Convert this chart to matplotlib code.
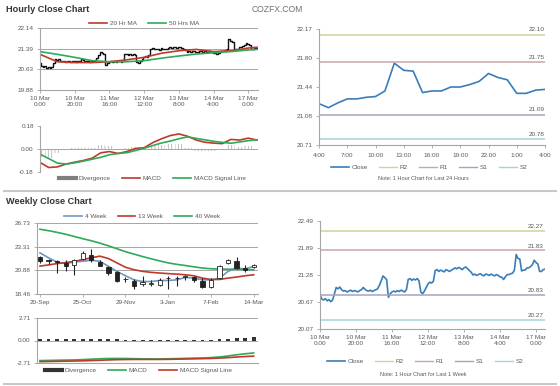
import numpy as np
import matplotlib.pyplot as plt
from matplotlib.lines import Line2D

plt.rcParams['font.family'] = ['Liberation Sans', 'DejaVu Sans']
plt.rcParams['hatch.linewidth'] = 0.6

W, H = 560, 386

# ---- hourly data, 10 Mar 0:00 .. 17 Mar 5:00 (one value per hour) ----
hourly_close = [20.85, 20.74, 20.72, 20.75, 20.70, 20.73, 20.68, 20.72,
                20.86, 21.00, 20.97, 21.01,
                20.95, 20.92, 20.93, 20.90, 20.92, 20.94, 20.91, 20.93, 20.92, 20.90,
                20.93, 20.95, 21.00, 20.96, 20.93, 20.92, 20.94, 20.91, 20.93, 20.95, 20.97,
                21.05, 21.15, 21.26, 21.22, 21.18,
                20.78, 20.86, 20.90,
                20.92, 20.90, 20.93, 20.91, 20.94, 20.92, 20.90, 20.95,
                21.18, 21.20, 21.16, 21.19, 21.17, 21.20, 21.15,
                20.90, 20.86, 20.92,
                21.00, 21.08, 21.12, 21.10, 21.14,
                21.38, 21.40, 21.36, 21.39, 21.37, 21.35, 21.40, 21.38, 21.36, 21.39, 21.41,
                21.44, 21.42, 21.45, 21.43, 21.40, 21.44, 21.46, 21.42, 21.38, 21.34,
                21.28, 21.30, 21.27, 21.29, 21.31, 21.28, 21.26, 21.30, 21.29, 21.27,
                21.30, 21.28, 21.26, 21.29, 21.27, 21.24,
                21.23, 21.18, 21.24, 21.29, 21.29, 21.31, 21.32, 21.39, 21.74, 21.65,
                21.64, 21.37, 21.39, 21.39, 21.44, 21.44, 21.47, 21.51, 21.61, 21.56,
                21.53, 21.36, 21.36, 21.40, 21.41]
hour_ticks = [0, 20, 40, 60, 80, 100, 120]
hour_labels = ['10 Mar\n0:00', '10 Mar\n20:00', '11 Mar\n16:00', '12 Mar\n12:00',
               '13 Mar\n8:00', '14 Mar\n4:00', '17 Mar\n0:00']

ma_hours = [0, 10, 20, 30, 40, 50, 60, 70, 80, 90, 100, 110, 120, 125]
ma20 = [21.18, 20.91, 20.88, 20.88, 20.91, 20.98, 21.07, 21.22, 21.31, 21.36, 21.28, 21.31, 21.41, 21.44]
ma50 = [21.28, 21.18, 21.07, 20.95, 20.91, 20.91, 20.95, 21.04, 21.12, 21.19, 21.24, 21.28, 21.34, 21.36]

macd_hours = list(range(0, 126, 5))
hr_macd = [-0.105, -0.145, -0.140, -0.118, -0.103, -0.090, -0.072, -0.030, -0.020, -0.035,
           -0.020, 0.004, 0.010, 0.050, 0.080, 0.105, 0.118, 0.100, 0.070, 0.053,
           0.046, 0.042, 0.075, 0.070, 0.085, 0.070]
hr_signal = [-0.040, -0.075, -0.110, -0.118, -0.108, -0.095, -0.080, -0.065, -0.045, -0.035,
             -0.029, -0.012, 0.006, 0.027, 0.047, 0.062, 0.080, 0.095, 0.083, 0.072,
             0.060, 0.052, 0.045, 0.055, 0.065, 0.073]

# last 24 hours (4:00 .. 4:00)
day_labels = ['4:00', '7:00', '10:00', '13:00', '16:00', '19:00', '22:00', '1:00', '4:00']
day_close = hourly_close[-25:]

level_names = ['R2', 'R1', 'S1', 'S2']
day_levels = [22.10, 21.75, 21.09, 20.78]
week_levels = [22.27, 21.83, 20.83, 20.27]

# ---- weekly data, 20-Sep .. 14-Mar ----
week_labels = ['20-Sep', '25-Oct', '29-Nov', '3-Jan', '7-Feb', '14-Mar']
wk_open = [22.24, 21.92, 21.82, 21.65, 21.47, 22.10, 22.51, 21.75, 21.23, 20.71, 20.00, 19.81, 19.50,
           19.50, 19.40, 20.05, 20.05, 20.19, 20.16, 19.81, 19.15, 20.09, 21.65, 21.82, 21.13, 21.23]
wk_high = [22.34, 22.06, 21.99, 21.99, 22.10, 22.86, 23.03, 21.99, 21.37, 20.78, 20.19, 19.98, 20.33,
           19.91, 20.09, 20.26, 20.26, 20.43, 20.33, 20.09, 20.09, 21.47, 22.06, 22.24, 21.47, 21.58]
wk_low = [21.65, 21.58, 20.61, 20.78, 20.43, 21.99, 21.72, 21.30, 20.43, 19.67, 19.64, 18.94, 19.29,
          19.29, 19.29, 18.94, 19.29, 19.91, 19.74, 19.05, 19.05, 19.98, 21.58, 21.05, 20.68, 21.13]
wk_close = [21.82, 21.80, 21.75, 21.30, 21.99, 22.68, 21.92, 21.37, 20.61, 19.81, 19.95, 19.29, 19.74,
            19.60, 19.91, 20.09, 20.09, 20.33, 19.85, 19.15, 19.91, 21.37, 21.99, 21.13, 20.88, 21.47]
wk_ma4 = [22.68, 22.17, 21.72, 21.58, 21.75, 21.82, 21.92, 21.82, 21.30, 20.78, 20.33, 19.91, 19.74,
          19.74, 19.85, 19.85, 19.91, 20.16, 20.09, 19.91, 19.91, 20.09, 20.78, 21.13, 21.02, 21.30]
wk_ma13 = [21.32, 21.44, 21.58, 21.68, 21.80, 21.99, 22.17, 22.34, 22.10, 21.65, 21.20, 20.95, 20.78,
           20.68, 20.61, 20.55, 20.50, 20.43, 20.33, 20.09, 19.95, 19.95, 20.09, 20.20, 20.33, 20.43]
wk_ma40 = [25.10, 24.95, 24.78, 24.59, 24.36, 24.13, 23.92, 23.68, 23.40, 23.10, 22.80, 22.55, 22.30,
           22.07, 21.85, 21.65, 21.50, 21.38, 21.25, 21.12, 21.05, 21.02, 21.00, 21.00, 20.97, 20.95]
wk_macd = [-2.42, -2.40, -2.38, -2.36, -2.34, -2.30, -2.25, -2.20, -2.17, -2.16, -2.17, -2.19, -2.21,
           -2.22, -2.22, -2.20, -2.18, -2.15, -2.12, -2.10, -2.06, -1.98, -1.86, -1.72, -1.60, -1.50]
wk_signal = [-2.55, -2.53, -2.51, -2.49, -2.47, -2.45, -2.42, -2.38, -2.34, -2.31, -2.29, -2.28, -2.28,
             -2.28, -2.28, -2.27, -2.25, -2.23, -2.21, -2.19, -2.16, -2.12, -2.06, -1.99, -1.93, -1.88]

RED = '#c0392b'
GREEN = '#2eaa5a'
BLUE = '#3a7db8'
GRAY = '#a6a6a6'
TXT = '#595959'
LEVEL_COLORS = ['#d2d29a', '#c9a7a7', '#a7a3bd', '#a3d3dc']
FS = 4.6


def box(l, t, r, b):
    return [l / W, 1 - b / H, (r - l) / W, (b - t) / H]


def style(ax, grid=True):
    for s in ['top', 'right']:
        ax.spines[s].set_visible(False)
    for s in ['left', 'bottom']:
        ax.spines[s].set_color(GRAY)
        ax.spines[s].set_linewidth(0.8)
    ax.tick_params(colors=GRAY, labelcolor=TXT, labelsize=FS, length=2, width=0.6, pad=2.5)
    if grid:
        ax.yaxis.grid(True, color=GRAY, lw=0.7)
        ax.set_axisbelow(True)


def legend_at(handles, labels, cx, cy, ncol):
    fig.legend(handles, labels, loc='center', bbox_to_anchor=(cx / W, 1 - cy / H), ncol=ncol,
               frameon=False, fontsize=FS, handlelength=2.8, handletextpad=0.4,
               columnspacing=1.8, labelcolor=TXT)


fig = plt.figure(figsize=(W / 100, H / 100), dpi=100)

# titles and separators
fig.text(6 / W, 1 - 10 / H, 'Hourly Close Chart', fontsize=6.6, fontweight='bold', color='#333333', va='center')
fig.text(6 / W, 1 - 202 / H, 'Weekly Close Chart', fontsize=6.6, fontweight='bold', color='#333333', va='center')
fig.text(252 / W, 1 - 10 / H, 'COZFX.COM', fontsize=6.2, color='#707070', va='center')
fig.add_artist(Line2D([4 / W, 556 / W], [1 - 191 / H] * 2, color='#c8c8c8', lw=1.5))
fig.add_artist(Line2D([4 / W, 556 / W], [1 - 384 / H] * 2, color='#c8c8c8', lw=1.5))

hours = np.arange(len(hourly_close))

# ---- hourly close (candles as step line) ----
ax1 = fig.add_axes(box(40, 28, 258, 90))
style(ax1)
ax1.plot(hours, hourly_close, color='#111111', lw=1.0, drawstyle='steps-mid')
ax1.plot(ma_hours, ma20, color=RED, lw=1.2)
ax1.plot(ma_hours, ma50, color=GREEN, lw=1.2)
ax1.set_xlim(0, 125.6)
ax1.set_ylim(19.88, 22.14)
ax1.set_yticks([19.88, 20.63, 21.39, 22.14])
ax1.set_yticklabels(['19.88', '20.63', '21.39', '22.14'])
ax1.set_xticks(hour_ticks)
ax1.set_xticklabels(hour_labels, linespacing=1.3)
legend_at([Line2D([], [], color=RED, lw=1.2), Line2D([], [], color=GREEN, lw=1.2)],
          ['20 Hr MA', '50 Hrs MA'], 144, 23, 2)

# ---- hourly MACD ----
ax2 = fig.add_axes(box(40, 126, 258, 172))
style(ax2, grid=False)
hr_div = np.array(hr_macd) - np.array(hr_signal)
ax2.axhline(0, color=GRAY, lw=0.7)
ax2.bar(macd_hours, hr_div, width=4.6, facecolor='none', edgecolor='#b4b4b4', hatch='|||||', lw=0)
ax2.plot(macd_hours, hr_macd, color=RED, lw=1.2)
ax2.plot(macd_hours, hr_signal, color=GREEN, lw=1.2)
ax2.set_xlim(0, 125.6)
ax2.set_ylim(-0.18, 0.18)
ax2.set_yticks([-0.18, 0.0, 0.18])
ax2.set_yticklabels(['-0.18', '0.00', '0.18'])
ax2.set_xticks([])
ax2.spines['bottom'].set_visible(False)
legend_at([Line2D([], [], color='#7f7f7f', lw=3), Line2D([], [], color=RED, lw=1.2),
           Line2D([], [], color=GREEN, lw=1.2)],
          ['Divergence', 'MACD', 'MACD Signal Line'], 152, 178, 3)

# ---- last 24 hours with pivots ----
ax3 = fig.add_axes(box(319, 29, 545, 145))
style(ax3, grid=False)
ax3.tick_params(axis='x', pad=4)
ax3.plot(np.arange(len(day_close)), day_close, color=BLUE, lw=1.2)
for name, lvl, col in zip(level_names, day_levels, LEVEL_COLORS):
    ax3.axhline(lvl, color=col, lw=1.1)
    ax3.text(24, lvl + 0.03, f'{lvl:.2f}', ha='right', va='bottom', fontsize=FS, color=TXT)
ax3.set_xlim(0, 24)
ax3.set_ylim(20.71, 22.17)
ax3.set_yticks([20.71, 21.08, 21.44, 21.80, 22.17])
ax3.set_yticklabels(['20.71', '21.08', '21.44', '21.80', '22.17'])
ax3.set_xticks(np.arange(0, 25, 3))
ax3.set_xticklabels(day_labels)
legend_at([Line2D([], [], color=BLUE, lw=1.2)] + [Line2D([], [], color=c, lw=1.0) for c in LEVEL_COLORS],
          ['Close'] + level_names, 429, 167, 5)
fig.text(423 / W, 1 - 179 / H, 'Note: 1 Hour Chart for Last 24 Hours', fontsize=4.0, color=TXT,
         ha='center', va='center')

# ---- weekly candles ----
ax4 = fig.add_axes(box(37, 223, 258, 294))
style(ax4)
wk = np.arange(len(wk_close))
ax4.vlines(wk, wk_low, wk_high, color='#222222', lw=0.8, zorder=3)
up = np.array(wk_close) >= np.array(wk_open)
bottoms = np.minimum(wk_open, wk_close)
heights = np.maximum(np.abs(np.array(wk_close) - np.array(wk_open)), 0.06)
ax4.bar(wk, heights, bottom=bottoms, width=0.5, color=np.where(up, 'white', '#222222'),
        edgecolor='#222222', lw=0.6, zorder=4)
ax4.plot(wk, wk_ma4, color='#6f98c2', lw=1.2, zorder=2)
ax4.plot(wk, wk_ma13, color=RED, lw=1.2, zorder=2)
ax4.plot(wk, wk_ma40, color=GREEN, lw=1.2, zorder=2)
ax4.set_xlim(-0.35, 25.5)
ax4.set_ylim(18.46, 25.74)
ax4.set_yticks([18.46, 20.88, 23.31, 25.74])
ax4.set_yticklabels(['18.46', '20.88', '23.31', '26.73'])
ax4.set_xticks(np.arange(0, 26, 5))
ax4.set_xticklabels(week_labels)
legend_at([Line2D([], [], color='#6f98c2', lw=1.2), Line2D([], [], color=RED, lw=1.2),
           Line2D([], [], color=GREEN, lw=1.2)],
          ['4 Week', '13 Week', '40 Week'], 142, 216, 3)

# ---- weekly MACD ----
ax5 = fig.add_axes(box(37, 318, 258, 363))
style(ax5)
wk_div = np.array(wk_macd) - np.array(wk_signal)
ax5.bar(wk, wk_div, width=0.45, color='#333333', zorder=3)
ax5.plot(wk, wk_macd, color=GREEN, lw=1.2)
ax5.plot(wk, wk_signal, color=RED, lw=1.2)
ax5.set_xlim(-0.35, 25.5)
ax5.set_ylim(-2.71, 2.71)
ax5.set_yticks([-2.71, 0.0, 2.71])
ax5.set_yticklabels(['-2.71', '0.00', '2.71'])
ax5.set_xticks([])
legend_at([Line2D([], [], color='#333333', lw=3), Line2D([], [], color=GREEN, lw=1.2),
           Line2D([], [], color=RED, lw=1.2)],
          ['Divergence', 'MACD', 'MACD Signal Line'], 138, 370, 3)

# ---- last week hourly with pivots ----
ax6 = fig.add_axes(box(320, 221, 545, 329))
style(ax6, grid=False)
ax6.plot(hours, hourly_close, color=BLUE, lw=1.2)
for name, lvl, col in zip(level_names, week_levels, LEVEL_COLORS):
    ax6.axhline(lvl, color=col, lw=1.1)
    ax6.text(124, lvl + 0.04, f'{lvl:.2f}', ha='right', va='bottom', fontsize=FS, color=TXT)
ax6.set_xlim(0, 125)
ax6.set_ylim(20.07, 22.49)
ax6.set_yticks([20.07, 20.67, 21.28, 21.89, 22.49])
ax6.set_yticklabels(['20.07', '20.67', '21.28', '21.89', '22.49'])
ax6.set_xticks(hour_ticks)
ax6.set_xticklabels(hour_labels, linespacing=1.3)
legend_at([Line2D([], [], color=BLUE, lw=1.2)] + [Line2D([], [], color=c, lw=1.0) for c in LEVEL_COLORS],
          ['Close'] + level_names, 425, 361, 5)
fig.text(423 / W, 1 - 374 / H, 'Note: 1 Hour Chart for Last 1 Week', fontsize=4.0, color=TXT,
         ha='center', va='center')

fig.savefig('out.png', dpi=100)
